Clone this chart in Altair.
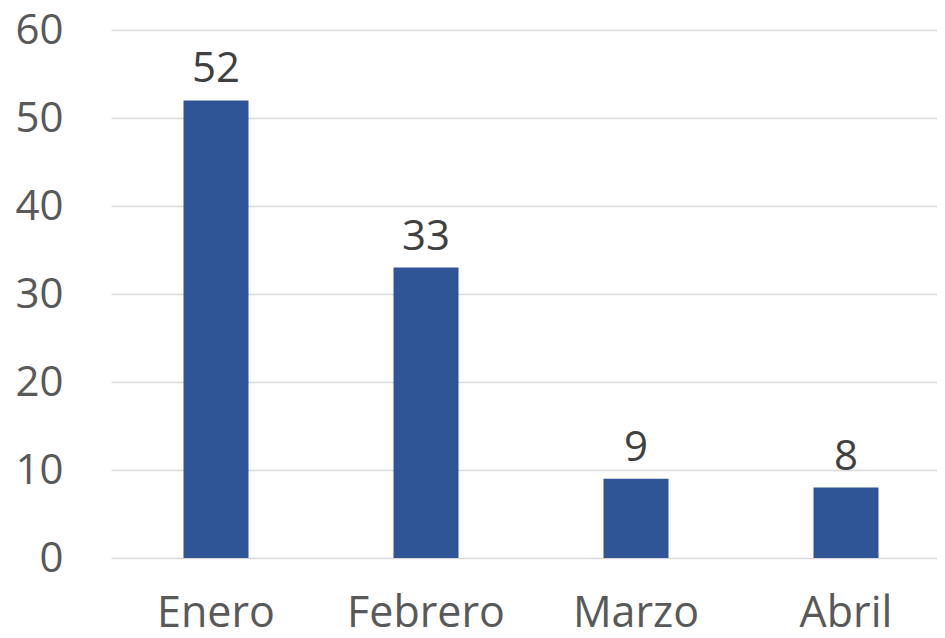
import altair as alt
import pandas as pd

meses = ["Enero", "Febrero", "Marzo", "Abril"]
valores = [52, 33, 9, 8]

df = pd.DataFrame({"mes": meses, "valor": valores})

FONT = "Open Sans"

x = alt.X("mes:N", sort=meses, title=None,
          scale=alt.Scale(paddingInner=0.0, paddingOuter=0.0, range=[0, 840]),
          axis=alt.Axis(labelAngle=0, labelFontSize=43, labelFont=FONT,
                        labelColor="#595959", ticks=False, domain=False,
                        labelPadding=34, grid=False))
y = alt.Y("valor:Q", title=None,
          scale=alt.Scale(domain=[0, 60], nice=False),
          axis=alt.Axis(values=[0, 10, 20, 30, 40, 50, 60], labelFontSize=42,
                        labelFont=FONT, labelColor="#595959", ticks=False,
                        domain=False, labelPadding=48, gridColor="#d9d9d9",
                        gridWidth=1.5))

bars = alt.Chart(df).mark_bar(size=65, color="#2f5597").encode(x=x, y=y)
text = alt.Chart(df).mark_text(baseline="alphabetic", dy=-18, fontSize=42,
                               font=FONT, color="#404040").encode(
    x=alt.X("mes:N", sort=meses), y="valor:Q", text="valor:Q")

chart = (bars + text).properties(
    width=826, height=528,
    autosize=alt.AutoSizeParams(type="none"),
    padding={"left": 103, "top": 22, "right": 0, "bottom": 72},
).configure_view(stroke=None)

chart.save("out.html", embed_options={"renderer": "svg", "actions": False})
